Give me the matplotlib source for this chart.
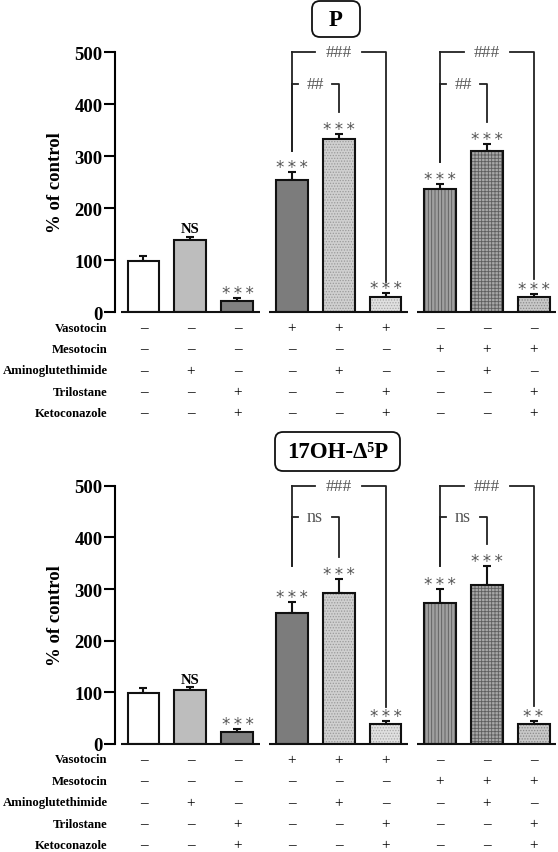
import numpy as np
import matplotlib
matplotlib.use("Agg")
import matplotlib.pyplot as plt
from matplotlib.patches import FancyBboxPatch
from matplotlib.transforms import blended_transform_factory

plt.rcParams['font.family'] = ['Liberation Serif', 'DejaVu Sans']
plt.rcParams['hatch.linewidth'] = 0.6

# ---- data ----
positions = [0, 1, 2, 3.15, 4.15, 5.15, 6.3, 7.3, 8.3]
groups = [(0, 2), (3, 5), (6, 8)]

p_values = [99, 138, 22, 254, 332, 29, 236, 310, 28]
p_errors = [8, 7, 5, 15, 10, 8, 11, 14, 6]
p_signif = ['', 'NS', '***', '***', '***', '***', '***', '***', '***']

oh_values = [99, 104, 24, 254, 292, 39, 273, 308, 39]
oh_errors = [10, 6, 5, 21, 28, 6, 27, 37, 5]
oh_signif = ['', 'NS', '***', '***', '***', '***', '***', '***', '**']

# brackets: (left bar, right bar, height, label, left leg bottom, right leg bottom)
p_brackets = [(3, 5, 500, '###', 310, 58), (3, 4, 438, '##', 310, 385),
              (6, 8, 500, '###', 288, 63), (6, 7, 438, '##', 288, 366)]
oh_brackets = [(3, 5, 500, '###', 345, 72), (3, 4, 440, 'ns', 345, 362),
               (6, 8, 500, '###', 344, 74), (6, 7, 440, 'ns', 344, 387)]

row_names = ['Vasotocin', 'Mesotocin', 'Aminoglutethimide', 'Trilostane', 'Ketoconazole']
treatments = [
    ['–', '–', '–', '+', '+', '+', '–', '–', '–'],
    ['–', '–', '–', '–', '–', '–', '+', '+', '+'],
    ['–', '+', '–', '–', '+', '–', '–', '+', '–'],
    ['–', '–', '+', '–', '–', '+', '–', '–', '+'],
    ['–', '–', '+', '–', '–', '+', '–', '–', '+'],
]

# bar styles: (face, hatch, hatch colour)
styles = [('white', '', 'white'), ('#bdbdbd', '', '#bdbdbd'), ('#808080', '', '#808080'),
          ('#7c7c7c', '', '#7c7c7c'), ('#d0d0d0', '......', '#9a9a9a'),
          ('#e0e0e0', '......', '#a8a8a8'), ('#a0a0a0', '|||||', '#5a5a5a'),
          ('#a8a8a8', '+++++', '#5e5e5e'), ('#c8c8c8', '......', '#8a8a8a')]

W, H = 558, 853
fig = plt.figure(figsize=(W / 100, H / 100), dpi=100)


def draw_panel(ax, values, errors, signif, brackets):
    for i, (x, v) in enumerate(zip(positions, values)):
        face, hatch, hcol = styles[i]
        ax.bar(x, v, 0.68, color=face, hatch=hatch, edgecolor=hcol, linewidth=0, zorder=2)
        ax.bar(x, v, 0.68, fill=False, edgecolor='#111111', linewidth=1.5, zorder=3)
    ax.errorbar(positions, values, yerr=[np.zeros(len(values)), errors], fmt='none',
                ecolor='#111111', elinewidth=1.5, capsize=3, capthick=1.5, zorder=1)
    for x, v, e, s in zip(positions, values, errors, signif):
        if s == 'NS':
            ax.annotate(s, (x, v + e), xytext=(0, 1), textcoords='offset points',
                        ha='center', va='bottom', fontsize=10.5, fontweight='bold')
        elif s:
            ax.annotate('\u2009'.join(s), (x, v + e), xytext=(0, 0), textcoords='offset points',
                        ha='center', va='baseline', fontsize=12, color='#555555',
                        family='DejaVu Sans')
    for a, b in groups:
        ax.plot([positions[a] - 0.47, positions[b] + 0.47], [0, 0], color='#111111',
                lw=1.5, clip_on=False, solid_capstyle='butt')
    for a, b, y, lab, lo_a, lo_b in brackets:
        xa, xb = positions[a], positions[b]
        mid = (xa + xb) / 2
        half = 0.49 if lab == '###' else 0.37
        kw = dict(color='#222222', lw=1.3, clip_on=False)
        ax.plot([xa, xa], [lo_a, y], **kw)
        ax.plot([xa, mid - half], [y, y], **kw)
        ax.plot([mid + half, xb, xb], [y, y, lo_b], **kw)
        if lab == 'ns':
            ax.text(mid, y, lab, ha='center', va='center', fontsize=13, color='#555555')
        else:
            ax.text(mid, y, lab, ha='center', va='center', fontsize=12.5, color='#555555')

    ax.set_xlim(-0.606, 8.82)
    ax.set_ylim(0, 500)
    ax.set_yticks([0, 100, 200, 300, 400, 500])
    for lbl in ax.get_yticklabels():
        lbl.set_fontweight('bold')
    ax.tick_params(axis='y', length=8, width=1.5, labelsize=13.5, pad=1)
    ax.tick_params(axis='x', bottom=False, labelbottom=False)
    for side in ('top', 'right', 'bottom'):
        ax.spines[side].set_visible(False)
    ax.spines['left'].set_linewidth(1.5)
    ax.set_ylabel('% of control', fontsize=13.5, fontweight='bold')
    ax.yaxis.set_label_coords(-0.115, 0.5)

    tr = blended_transform_factory(ax.transData, ax.transAxes)
    ax_h = ax.get_position().height * H
    for r, (name, row) in enumerate(zip(row_names, treatments)):
        yy = -(15.5 + 21.4 * r) / ax_h
        ax.text(-0.76, yy, name, transform=tr, ha='right', va='center',
                fontsize=9.2, fontweight='bold')
        for x, s in zip(positions, row):
            ax.text(x, yy, s, transform=tr, ha='center', va='center', fontsize=11)


ax1 = fig.add_axes([115 / W, 1 - 313 / H, 443 / W, 260 / H])
draw_panel(ax1, p_values, p_errors, p_signif, p_brackets)
ax2 = fig.add_axes([115 / W, 1 - 745 / H, 443 / W, 258.3 / H])
draw_panel(ax2, oh_values, oh_errors, oh_signif, oh_brackets)


def title_box(x0, x1, ytop, ybot, text):
    box = FancyBboxPatch((x0 / 100, (H - ybot) / 100), (x1 - x0) / 100, (ybot - ytop) / 100,
                         boxstyle='round,pad=0,rounding_size=0.08', transform=fig.dpi_scale_trans,
                         facecolor='white', edgecolor='#111111', linewidth=1.3)
    fig.patches.append(box)
    fig.text((x0 + x1) / 2 / W, 1 - (ytop + ybot) / 2 / H, text, ha='center', va='center',
             fontsize=16.5, fontweight='bold')


title_box(312, 360, 2, 38, 'P')
title_box(275, 400, 433, 472, '17OH-Δ⁵P')

fig.savefig('out.png', dpi=100)
